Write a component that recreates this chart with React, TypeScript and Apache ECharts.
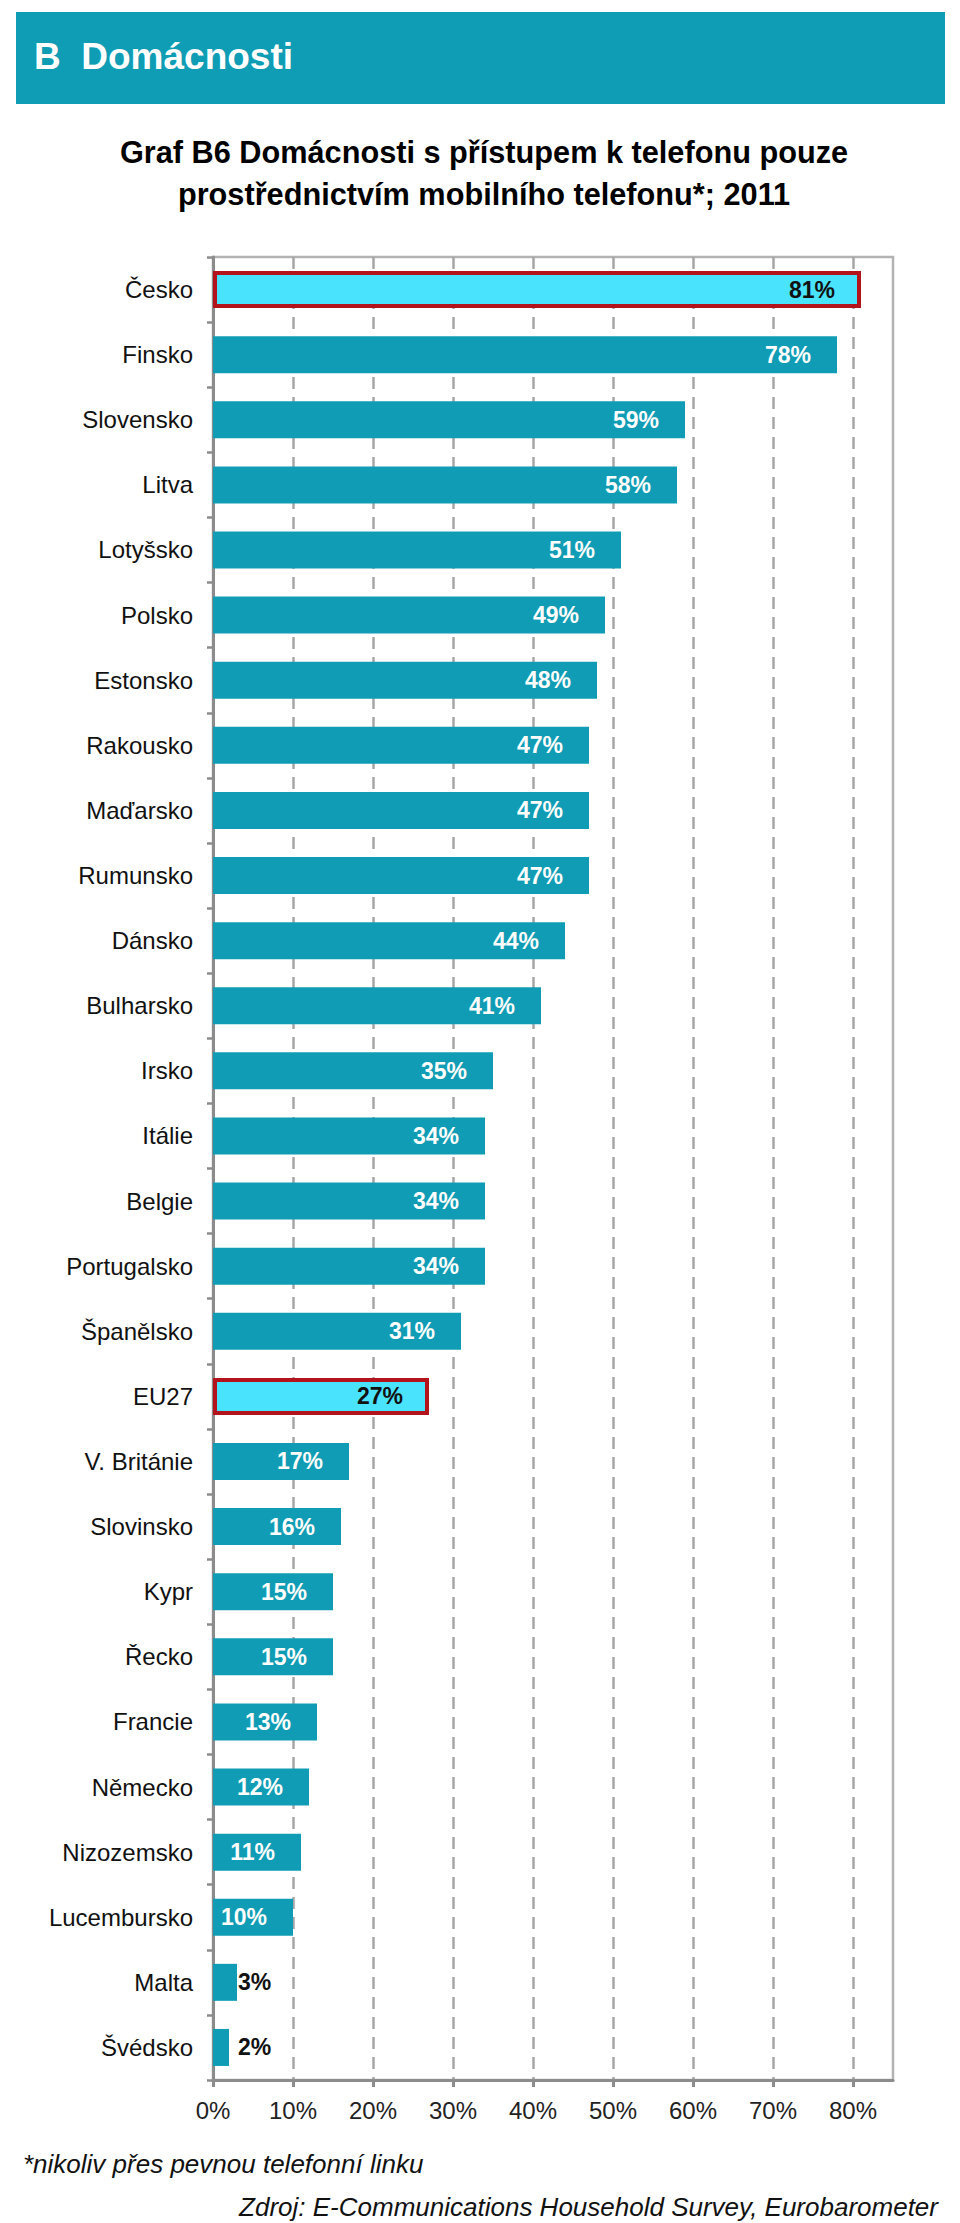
import React, { useEffect, useRef } from "react";
import * as echarts from "echarts";

const categories = [
  "Česko", "Finsko", "Slovensko", "Litva", "Lotyšsko", "Polsko", "Estonsko",
  "Rakousko", "Maďarsko", "Rumunsko", "Dánsko", "Bulharsko", "Irsko", "Itálie",
  "Belgie", "Portugalsko", "Španělsko", "EU27", "V. Británie", "Slovinsko",
  "Kypr", "Řecko", "Francie", "Německo", "Nizozemsko", "Lucembursko", "Malta", "Švédsko",
];
const values = [
  81, 78, 59, 58, 51, 49, 48, 47, 47, 47, 44, 41, 35, 34, 34, 34, 31, 27,
  17, 16, 15, 15, 13, 12, 11, 10, 3, 2,
];
const highlighted = ["Česko", "EU27"];
const outsideLabelled = ["Malta", "Švédsko"];
const xTicks = [0, 10, 20, 30, 40, 50, 60, 70, 80];

const headerText = "B  Domácnosti";
const titleLines = [
  "Graf B6 Domácnosti s přístupem k telefonu pouze",
  "prostřednictvím mobilního telefonu*; 2011",
];
const footnote = "*nikoliv přes pevnou telefonní linku";
const source = "Zdroj: E-Communications Household Survey, Eurobarometer";

const FONT = "'Liberation Sans', Arial, Helvetica, sans-serif";
const TEAL = "#109cb5";

export default function App() {
  const ref = useRef<HTMLDivElement>(null);
  useEffect(() => {
    if (!ref.current) return;
    const chart = echarts.init(ref.current, null, { renderer: "svg" });
    const data = values.map((v, i) => {
      const name = categories[i];
      const item: any = { value: v };
      if (highlighted.includes(name)) {
        item.itemStyle = { color: "#4ae3fd", borderColor: "#b3141b", borderWidth: 4 };
        item.label = { color: "#111111" };
      } else if (outsideLabelled.includes(name)) {
        item.label = {
          position: "right",
          color: "#111111",
          distance: name === "Malta" ? 1 : 9,
        };
      }
      return item;
    });
    chart.setOption({
      animation: false,
      backgroundColor: "#ffffff",
      textStyle: { fontFamily: FONT },
      grid: {
        left: 213,
        top: 257,
        right: 67,
        bottom: 143,
        show: true,
        borderColor: "#b3b3b3",
        borderWidth: 2.5,
        backgroundColor: "transparent",
      },
      xAxis: {
        type: "value",
        min: 0,
        max: 85,
        interval: 10,
        axisLine: { show: true, lineStyle: { color: "#8c8c8c", width: 3 } },
        axisTick: {
          show: true,
          length: 7,
          customValues: xTicks,
          lineStyle: { color: "#8c8c8c", width: 3 },
        },
        axisLabel: {
          formatter: "{value}%",
          fontSize: 24,
          color: "#222222",
          margin: 18,
          fontFamily: FONT,
          showMaxLabel: false,
        },
        splitLine: {
          show: true,
          showMinLine: false,
          lineStyle: { color: "#a6a6a6", width: 2.5, type: [12, 8] },
        },
      },
      yAxis: {
        type: "category",
        inverse: true,
        data: categories,
        axisLine: { show: true, lineStyle: { color: "#8c8c8c", width: 3 } },
        axisTick: { show: true, length: 6, lineStyle: { color: "#8c8c8c", width: 2.5 } },
        axisLabel: { fontSize: 24, color: "#111111", margin: 20, fontFamily: FONT },
        splitLine: { show: false },
      },
      series: [
        {
          type: "bar",
          data,
          barWidth: 37,
          itemStyle: { color: TEAL },
          label: {
            show: true,
            position: "insideRight",
            distance: 26,
            formatter: "{c}%",
            color: "#ffffff",
            fontWeight: "bold",
            fontSize: 23,
            fontFamily: FONT,
          },
        },
      ],
      graphic: [
        {
          type: "rect",
          shape: { x: 16, y: 12, width: 929, height: 92 },
          style: { fill: "#0f9cb5" },
        },
        {
          type: "text",
          x: 34,
          y: 56,
          style: {
            text: headerText,
            fill: "#ffffff",
            font: `bold 37px ${FONT}`,
            textVerticalAlign: "middle",
          },
        },
        {
          type: "text",
          x: 484,
          y: 152,
          style: {
            text: titleLines[0],
            fill: "#000000",
            font: `bold 30.7px ${FONT}`,
            textAlign: "center",
            textVerticalAlign: "middle",
          },
        },
        {
          type: "text",
          x: 484,
          y: 194,
          style: {
            text: titleLines[1],
            fill: "#000000",
            font: `bold 30.7px ${FONT}`,
            textAlign: "center",
            textVerticalAlign: "middle",
          },
        },
        {
          type: "text",
          x: 23,
          y: 2164,
          style: {
            text: footnote,
            fill: "#111111",
            font: `italic 26px ${FONT}`,
            textVerticalAlign: "middle",
          },
        },
        {
          type: "text",
          x: 938,
          y: 2207,
          style: {
            text: source,
            fill: "#111111",
            font: `italic 26px ${FONT}`,
            textAlign: "right",
            textVerticalAlign: "middle",
          },
        },
      ],
    });
    return () => chart.dispose();
  }, []);
  return (
    <div
      ref={ref}
      style={{ position: "absolute", left: 0, top: 0, width: 960, height: 2223, background: "#fff" }}
    />
  );
}
